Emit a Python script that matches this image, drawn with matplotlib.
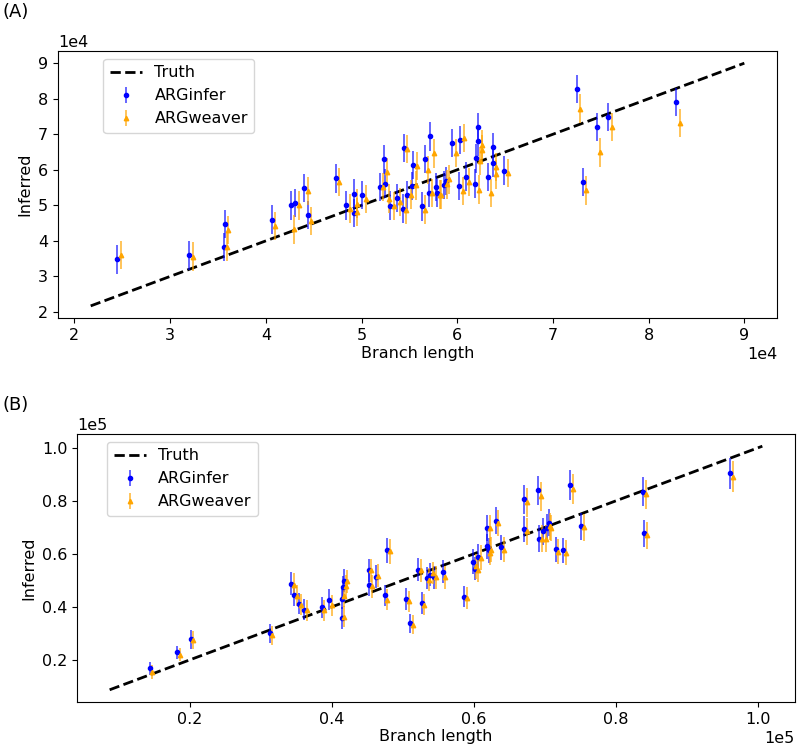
import matplotlib
matplotlib.use("Agg")
import matplotlib.pyplot as plt
from matplotlib.colors import to_rgba
import numpy as np

plt.rcParams["font.size"] = 11.5

# ---------------- panel (A) data, values in units of 1e4 ----------------
a_true = [2.45, 3.20, 3.56, 3.57, 4.06, 4.26, 4.31, 4.40, 4.44, 4.73,
          4.84, 4.92, 4.92, 5.01, 5.19, 5.23, 5.25, 5.30, 5.37, 5.43,
          5.44, 5.48, 5.53, 5.54, 5.63, 5.66, 5.70, 5.72, 5.78, 5.79,
          5.86, 5.88, 5.95, 6.02, 6.03, 6.09, 6.19, 6.20, 6.22, 6.22,
          6.32, 6.37, 6.37, 6.49, 7.25, 7.31, 7.46, 7.58, 8.29]
a_arginfer = [3.48, 3.59, 3.82, 4.48, 4.60, 5.00, 5.06, 5.49, 4.72, 5.76,
              5.00, 5.33, 4.78, 5.29, 5.52, 6.29, 5.61, 4.99, 5.20, 4.91,
              6.62, 5.29, 5.54, 6.13, 4.97, 6.31, 5.34, 6.94, 5.52, 5.34,
              5.57, 5.68, 6.75, 5.54, 6.84, 5.81, 5.61, 6.32, 7.20, 6.80,
              5.79, 6.63, 6.19, 5.98, 8.28, 5.65, 7.21, 7.49, 7.91]
a_argweaver = [3.60, 3.56, 3.82, 4.30, 4.42, 4.32, 5.00, 5.40, 4.56, 5.66,
               4.91, 5.05, 4.81, 5.18, 5.52, 5.93, 5.19, 4.98, 5.09, 4.87,
               6.59, 5.30, 5.56, 6.10, 4.88, 6.00, 5.35, 6.46, 5.30, 5.30,
               5.59, 5.73, 6.47, 5.40, 6.90, 5.65, 5.44, 6.24, 6.71, 6.57,
               5.35, 6.08, 5.87, 5.91, 7.72, 5.42, 6.49, 7.20, 7.32]
a_err = 0.40          # typical half width of the error bars
a_truth = [2.17, 9.0]

# ---------------- panel (B) data, values in units of 1e5 ----------------
b_true = [0.1438, 0.1827, 0.2014, 0.3129, 0.343, 0.3476, 0.354, 0.3616, 0.386, 0.3968,
          0.414, 0.414, 0.416, 0.4175, 0.452, 0.453, 0.462, 0.4745, 0.478, 0.505,
          0.5106, 0.5219, 0.5265, 0.534, 0.5387, 0.5434, 0.556, 0.5865, 0.599, 0.602,
          0.606, 0.619, 0.619, 0.621, 0.631, 0.6385, 0.6708, 0.6708, 0.6905, 0.6924,
          0.698, 0.7036, 0.7055, 0.7154, 0.726, 0.7359, 0.751, 0.8386, 0.8396, 0.9609]
b_arginfer = [0.168, 0.229, 0.278, 0.300, 0.488, 0.444, 0.412, 0.390, 0.398, 0.428,
              0.431, 0.358, 0.475, 0.499, 0.538, 0.484, 0.514, 0.444, 0.613, 0.430,
              0.338, 0.541, 0.415, 0.509, 0.522, 0.511, 0.533, 0.438, 0.570, 0.544,
              0.590, 0.698, 0.628, 0.614, 0.725, 0.625, 0.806, 0.693, 0.839, 0.657,
              0.685, 0.699, 0.718, 0.617, 0.614, 0.860, 0.704, 0.835, 0.677, 0.904]
b_argweaver = [0.155, 0.220, 0.276, 0.293, 0.484, 0.443, 0.408, 0.387, 0.387, 0.406,
               0.440, 0.363, 0.478, 0.497, 0.538, 0.478, 0.518, 0.428, 0.610, 0.421,
               0.333, 0.538, 0.409, 0.503, 0.528, 0.512, 0.512, 0.434, 0.553, 0.538,
               0.585, 0.698, 0.604, 0.616, 0.717, 0.616, 0.795, 0.685, 0.817, 0.657,
               0.657, 0.704, 0.698, 0.608, 0.604, 0.845, 0.700, 0.824, 0.670, 0.891]
b_err = [0.025, 0.025, 0.035, 0.035, 0.043, 0.040, 0.040, 0.040, 0.040, 0.040,
         0.040, 0.040, 0.043, 0.043, 0.043, 0.043, 0.043, 0.040, 0.047, 0.040,
         0.035, 0.043, 0.040, 0.043, 0.043, 0.043, 0.043, 0.040, 0.047, 0.043,
         0.047, 0.050, 0.047, 0.047, 0.050, 0.047, 0.055, 0.050, 0.055, 0.050,
         0.050, 0.050, 0.050, 0.047, 0.047, 0.058, 0.050, 0.055, 0.050, 0.058]
b_truth = [0.0876, 1.006]


def draw_panel(ax, scale, true, inf, weav, err, truth, shift):
    true = np.array(true) * scale
    inf = np.array(inf) * scale
    weav = np.array(weav) * scale
    err = np.array(err) * scale
    truth = np.array(truth) * scale

    ax.plot(truth, truth, "--", color="black", lw=2, label="Truth")
    ax.errorbar(true, inf, yerr=err, fmt=".", ms=6, color="blue",
                ecolor=to_rgba("blue", 0.65), elinewidth=1.3, label="ARGinfer")
    ax.errorbar(true + shift * scale, weav, yerr=err, fmt="^", ms=3.2,
                color="orange", ecolor=to_rgba("orange", 0.7), elinewidth=1.3,
                label="ARGweaver")
    ax.ticklabel_format(style="sci", axis="both", scilimits=(0, 0))
    ax.set_xlabel("Branch length", labelpad=2)
    ax.set_ylabel("Inferred")


fig = plt.figure(figsize=(7.98, 7.54), dpi=100)

ax1 = fig.add_axes([0.0727, 0.5782, 0.901, 0.3541])
draw_panel(ax1, 1e4, a_true, a_arginfer, a_argweaver, a_err, a_truth, 0.037)
ax1.legend(loc="upper left", bbox_to_anchor=(0.052, 1.0))
fig.text(0.003, 0.984, "(A)", fontsize=13, va="center")

ax2 = fig.add_axes([0.0965, 0.069, 0.8997, 0.3554])
draw_panel(ax2, 1e5, b_true, b_arginfer, b_argweaver, b_err, b_truth, 0.0035)
ax2.legend(loc="upper left", bbox_to_anchor=(0.031, 1.0))
fig.text(0.003, 0.463, "(B)", fontsize=13, va="center")

fig.savefig("out.png", dpi=100)
